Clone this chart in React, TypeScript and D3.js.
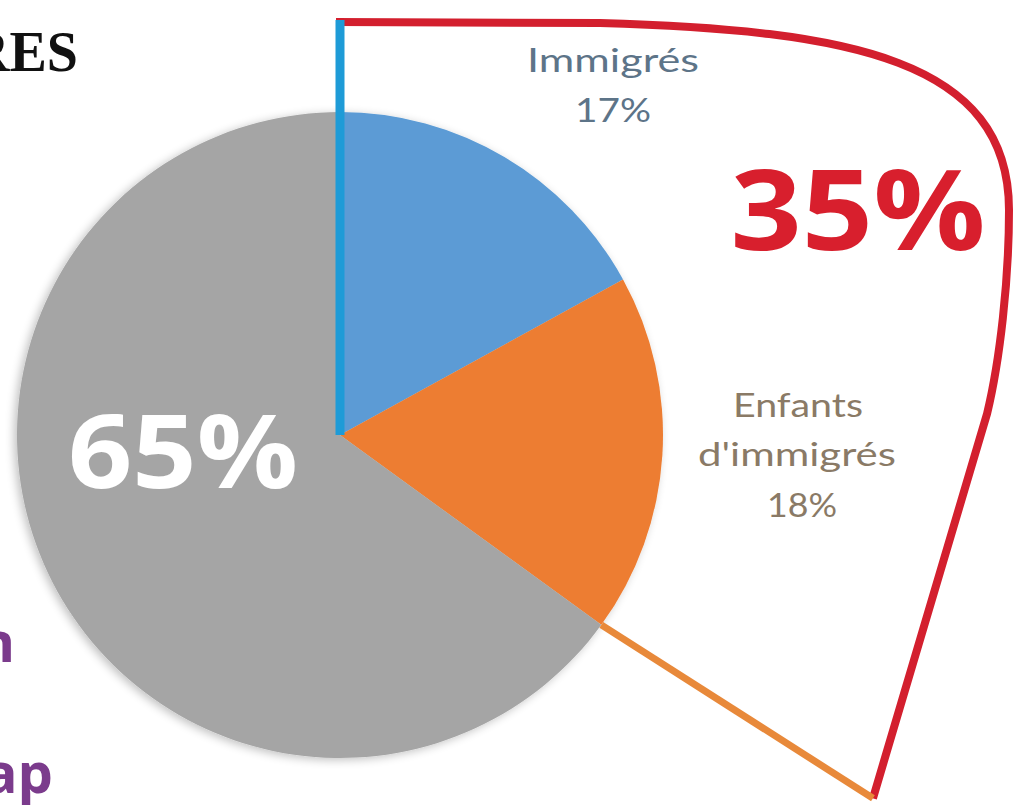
import React from "react";
import * as d3 from "d3";

const categories = ["Immigrés", "Enfants d'immigrés", "Autres"];
const values = [17, 18, 65];
const colors = ["#5b9bd5", "#ed7d31", "#a5a5a5"];

const W = 1014;
const H = 805;
const cx = 340;
const cy = 435;
const R = 323;

export default function App() {
  const pie = d3.pie<number>().sort(null).startAngle(0).endAngle(2 * Math.PI);
  const arcs = pie(values);
  const arc = d3.arc<d3.PieArcDatum<number>>().innerRadius(0).outerRadius(R);

  const total = d3.sum(values);
  const share = (values[0] + values[1]) / total; // 35%
  const endAng = arcs[1].endAngle;

  const pt = (a: number, r: number): [number, number] => [cx + r * Math.sin(a), cy - r * Math.cos(a)];

  const blueTop = pt(0, 415);
  const orangeStart = pt(endAng, R);
  const orangeEnd = pt(endAng - 0.03, 645);

  const p = d3.path();
  p.moveTo(blueTop[0] - 4, blueTop[1] + 2);
  p.lineTo(600, 23);
  p.bezierCurveTo(850, 30, 1009, 60, 1009, 210);
  p.bezierCurveTo(1009, 280, 1000, 360, 987, 414);
  p.lineTo(orangeEnd[0], orangeEnd[1]);

  const fmt = d3.format(".0%");
  const lab = { fontFamily: "Lato, 'Open Sans', sans-serif", fontSize: 32, textAnchor: "middle" as const, lengthAdjust: "spacingAndGlyphs" };

  return (
    <svg
      width={W}
      height={H}
      viewBox={`0 0 ${W} ${H}`}
      style={{ position: "absolute", left: 0, top: 0, background: "#fff" }}
    >
      <defs>
        <filter id="sh" x="-10%" y="-10%" width="120%" height="120%">
          <feGaussianBlur in="SourceAlpha" stdDeviation="5" />
          <feOffset dx="-3" dy="2" result="b" />
          <feComponentTransfer>
            <feFuncA type="linear" slope="0.25" />
          </feComponentTransfer>
          <feMerge>
            <feMergeNode />
            <feMergeNode in="SourceGraphic" />
          </feMerge>
        </filter>
      </defs>

      {/* clipped title fragments from the original page */}
      <text x={78} y={71} textAnchor="end" fontFamily="'Liberation Serif', serif" fontWeight="bold" fontSize={56} fill="#111">
        RES
      </text>
      <text x={15} y={662} textAnchor="end" fontFamily="'Open Sans', sans-serif" fontWeight="bold" fontSize={56} fill="#7b3b8c">
        n
      </text>
      <text x={53} y={793} textAnchor="end" fontFamily="'Open Sans', sans-serif" fontWeight="bold" fontSize={56} fill="#7b3b8c">
        ap
      </text>

      <g filter="url(#sh)">
        {arcs.map((a, i) => (
          <path key={categories[i]} d={arc(a) || ""} transform={`translate(${cx},${cy})`} fill={colors[i]} />
        ))}
      </g>

      {/* red outline around the 35% group */}
      <path d={p.toString()} fill="none" stroke="#d31f2e" strokeWidth={8} strokeLinejoin="miter" />

      {/* leader lines */}
      <line x1={cx} y1={cy} x2={blueTop[0]} y2={blueTop[1]} stroke="#1e9bd7" strokeWidth={9} />
      <line x1={orangeStart[0]} y1={orangeStart[1]} x2={orangeEnd[0]} y2={orangeEnd[1]} stroke="#e8893a" strokeWidth={7} />

      {/* labels */}
      <text {...lab} x={613} y={72} fill="#5d7488" textLength={172}>{categories[0]}</text>
      <text {...lab} x={613} y={122} fill="#5d7488" textLength={76}>{fmt(values[0] / total)}</text>
      <text {...lab} x={798} y={417} fill="#8a7a66" textLength={130}>Enfants</text>
      <text {...lab} x={797} y={466} fill="#8a7a66" textLength={198}>d'immigrés</text>
      <text {...lab} x={802} y={517} fill="#8a7a66" textLength={70}>{fmt(values[1] / total)}</text>

      <text x={858} y={250} textAnchor="middle" fontFamily="'Open Sans', sans-serif" fontWeight="bold" fontSize={112}
        fill="#d81f2d" textLength={255} lengthAdjust="spacingAndGlyphs">
        {fmt(share)}
      </text>
      <text x={183} y={488} textAnchor="middle" fontFamily="'Open Sans', sans-serif" fontWeight="bold" fontSize={102}
        fill="#ffffff" textLength={230} lengthAdjust="spacingAndGlyphs">
        {fmt(values[2] / total)}
      </text>
    </svg>
  );
}
